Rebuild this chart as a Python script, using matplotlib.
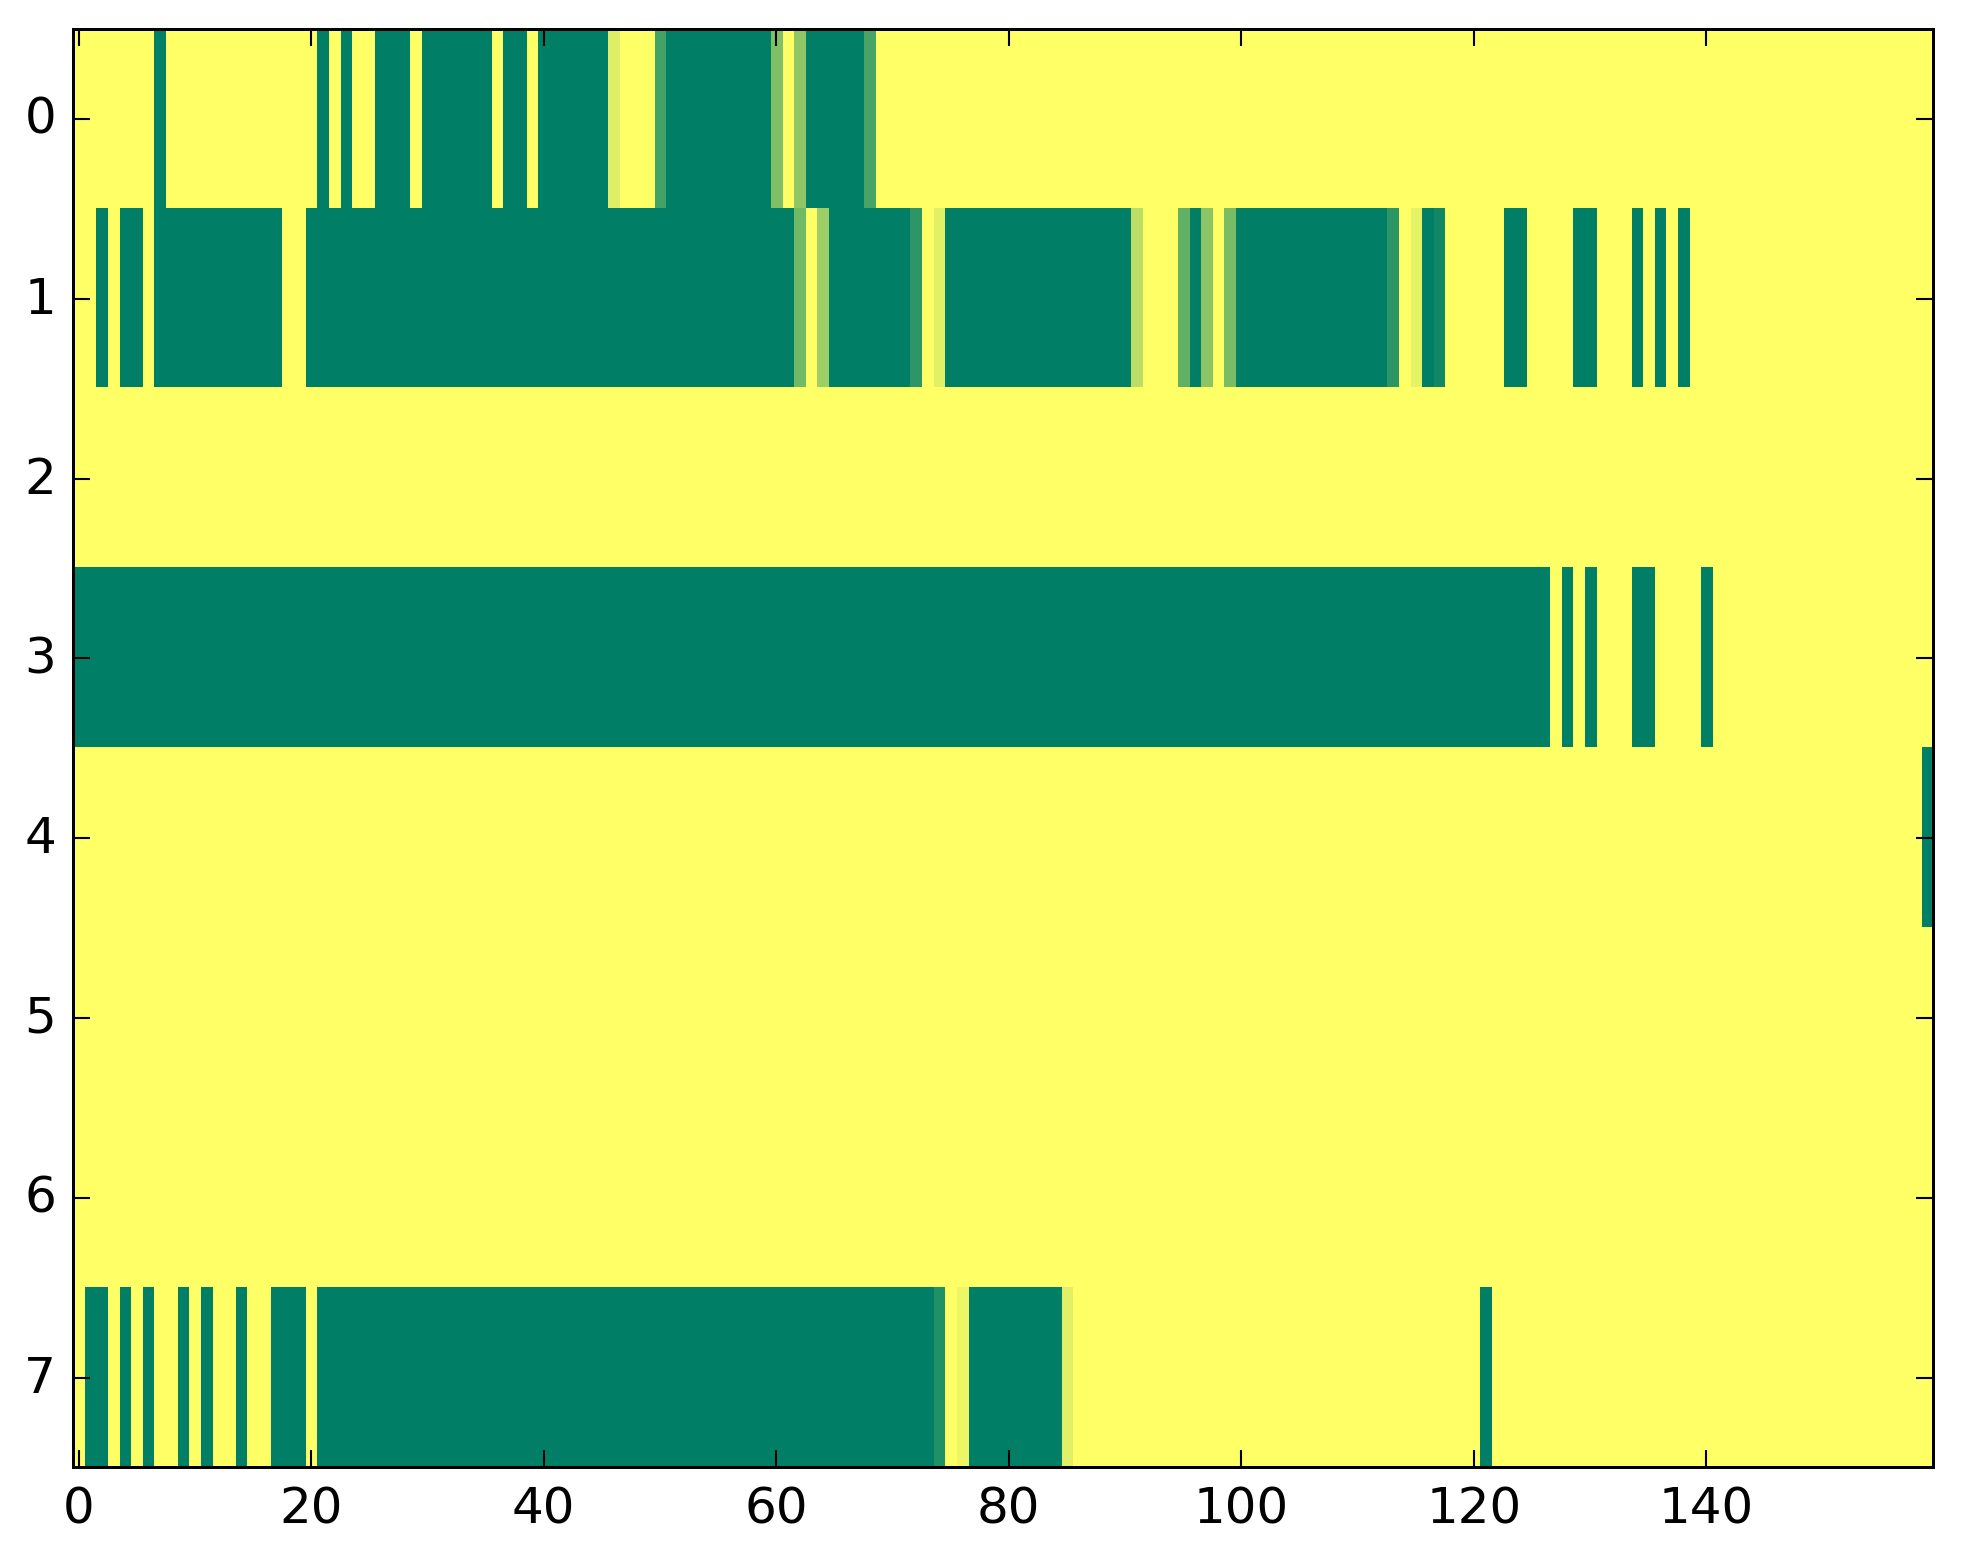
import matplotlib
matplotlib.use('Agg')
import matplotlib.pyplot as plt
import numpy as np

plt.style.use('classic')

# one row per track, 160 time slots each
row0 = [0, 0, 0, 0, 0, 0, 0, 1, 0, 0, 0, 0, 0, 0, 0, 0, 0, 0, 0, 0,
        0, 1, 0, 1, 0, 0, 1, 1, 1, 0, 1, 1, 1, 1, 1, 1, 0, 1, 1, 0,
        1, 1, 1, 1, 1, 1, 0.13, 0, 0, 0, 0.73, 1, 1, 1, 1, 1, 1, 1, 1, 1,
        0.5, 0, 0.44, 1, 1, 1, 1, 1, 0.72, 0, 0, 0, 0, 0, 0, 0, 0, 0, 0, 0,
        0, 0, 0, 0, 0, 0, 0, 0, 0, 0, 0, 0, 0, 0, 0, 0, 0, 0, 0, 0,
        0, 0, 0, 0, 0, 0, 0, 0, 0, 0, 0, 0, 0, 0, 0, 0, 0, 0, 0, 0,
        0, 0, 0, 0, 0, 0, 0, 0, 0, 0, 0, 0, 0, 0, 0, 0, 0, 0, 0, 0,
        0, 0, 0, 0, 0, 0, 0, 0, 0, 0, 0, 0, 0, 0, 0, 0, 0, 0, 0, 0]

row1 = [0, 0, 1, 0, 1, 1, 0, 1, 1, 1, 1, 1, 1, 1, 1, 1, 1, 1, 0, 0,
        1, 1, 1, 1, 1, 1, 1, 1, 1, 1, 1, 1, 1, 1, 1, 1, 1, 1, 1, 1,
        1, 1, 1, 1, 1, 1, 1, 1, 1, 1, 1, 1, 1, 1, 1, 1, 1, 1, 1, 1,
        1, 1, 0.55, 0, 0.38, 1, 1, 1, 1, 1, 1, 1, 0.82, 0, 0.12, 1, 1, 1, 1, 1,
        1, 1, 1, 1, 1, 1, 1, 1, 1, 1, 1, 0.26, 0, 0, 0, 0.62, 1, 0.45, 0, 0.52,
        1, 1, 1, 1, 1, 1, 1, 1, 1, 1, 1, 1, 1, 0.83, 0, 0.1, 1, 0.93, 0, 0,
        0, 0, 0, 1, 1, 0, 0, 0, 0, 1, 1, 0, 0, 0, 1, 0, 1, 0, 1, 0,
        0, 0, 0, 0, 0, 0, 0, 0, 0, 0, 0, 0, 0, 0, 0, 0, 0, 0, 0, 0]

row2 = [0] * 160

row3 = [1, 1, 1, 1, 1, 1, 1, 1, 1, 1, 1, 1, 1, 1, 1, 1, 1, 1, 1, 1,
        1, 1, 1, 1, 1, 1, 1, 1, 1, 1, 1, 1, 1, 1, 1, 1, 1, 1, 1, 1,
        1, 1, 1, 1, 1, 1, 1, 1, 1, 1, 1, 1, 1, 1, 1, 1, 1, 1, 1, 1,
        1, 1, 1, 1, 1, 1, 1, 1, 1, 1, 1, 1, 1, 1, 1, 1, 1, 1, 1, 1,
        1, 1, 1, 1, 1, 1, 1, 1, 1, 1, 1, 1, 1, 1, 1, 1, 1, 1, 1, 1,
        1, 1, 1, 1, 1, 1, 1, 1, 1, 1, 1, 1, 1, 1, 1, 1, 1, 1, 1, 1,
        1, 1, 1, 1, 1, 1, 1, 0, 1, 0, 1, 0, 0, 0, 1, 1, 0, 0, 0, 0,
        1, 0, 0, 0, 0, 0, 0, 0, 0, 0, 0, 0, 0, 0, 0, 0, 0, 0, 0, 0]

row4 = [0] * 159 + [1]

row5 = [0] * 160

row6 = [0] * 160

row7 = [0, 1, 1, 0, 1, 0, 1, 0, 0, 1, 0, 1, 0, 0, 1, 0, 0, 1, 1, 1,
        0, 1, 1, 1, 1, 1, 1, 1, 1, 1, 1, 1, 1, 1, 1, 1, 1, 1, 1, 1,
        1, 1, 1, 1, 1, 1, 1, 1, 1, 1, 1, 1, 1, 1, 1, 1, 1, 1, 1, 1,
        1, 1, 1, 1, 1, 1, 1, 1, 1, 1, 1, 1, 1, 1, 0.87, 0, 0.07, 1, 1, 1,
        1, 1, 1, 1, 1, 0.12, 0, 0, 0, 0, 0, 0, 0, 0, 0, 0, 0, 0, 0, 0,
        0, 0, 0, 0, 0, 0, 0, 0, 0, 0, 0, 0, 0, 0, 0, 0, 0, 0, 0, 0,
        0, 1, 0, 0, 0, 0, 0, 0, 0, 0, 0, 0, 0, 0, 0, 0, 0, 0, 0, 0,
        0, 0, 0, 0, 0, 0, 0, 0, 0, 0, 0, 0, 0, 0, 0, 0, 0, 0, 0, 0]

data = np.array([row0, row1, row2, row3, row4, row5, row6, row7], dtype=float)

fig = plt.figure(figsize=(1963 / 300, 1564 / 300), dpi=300, facecolor='white')
ax = fig.add_axes([0.0371, 0.0611, 0.9476, 0.9197])

ax.imshow(data, cmap='summer_r', aspect='auto', interpolation='nearest',
          vmin=0, vmax=1)
ax.set_xlim(-0.5, 159.5)
ax.set_ylim(7.5, -0.5)
ax.set_xticks(np.arange(0, 160, 20))
ax.set_yticks(np.arange(0, 8))
ax.tick_params(labelsize=12)
for s in ax.spines.values():
    s.set_linewidth(0.72)

fig.savefig('out.png', dpi=300, facecolor='white')
